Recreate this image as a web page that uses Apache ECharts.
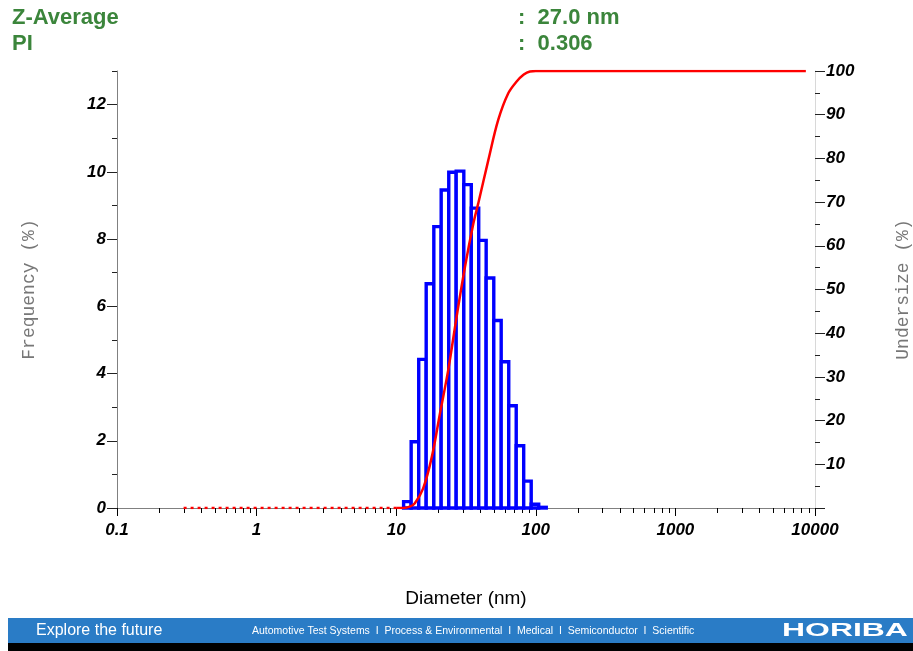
<!DOCTYPE html>
<html>
<head>
<meta charset="utf-8">
<script src="https://cdn.jsdelivr.net/npm/echarts@6/dist/echarts.min.js"></script>
<style>
html,body{margin:0;padding:0;background:#fff;overflow:hidden;}
#chart{width:913px;height:651px;}
</style>
</head>
<body>
<div id="chart"></div>
<script>
// ---- data ----
const binEdges = [11.3, 12.8, 14.5, 16.4, 18.6, 21.0, 23.8, 26.9, 30.5, 34.5, 39.0, 44.1, 50.0, 56.5, 64.0, 72.4, 81.9, 92.7, 104.9, 118.8];
const frequency = [0.19, 1.97, 4.42, 6.67, 8.37, 9.46, 9.99, 10.02, 9.62, 8.92, 7.96, 6.84, 5.58, 4.35, 3.04, 1.85, 0.80, 0.11, 0.02];
const undersizeD = [10, 11.2, 12.5, 13.6, 15.6, 18.0, 20.6, 23.6, 27.1, 31.1, 35.7, 38.7, 45.7, 53.8, 63.5, 72.9, 82, 90.8, 100, 8600];
const undersizePct = [0, 0, 0.3, 1.1, 4.5, 11.7, 21.7, 31.6, 43.8, 55.2, 65.1, 69.7, 79.6, 88.8, 94.9, 97.6, 99.2, 99.9, 100, 100];
const zeroRegionD = [0.3, 10];
const zeroRegionPct = [0, 0];
const xTickLabels = ['0.1', '1', '10', '100', '1000', '10000'];
const minorMultipliers = [2, 3, 4, 5, 6, 7, 8, 9];
const decades = [0.1, 1, 10, 100, 1000];
const headerLabels = ['Z-Average', 'PI'];
const headerValues = [':  27.0 nm', ':  0.306'];

const minorTickValues = [];
decades.forEach(d => minorMultipliers.forEach(m => minorTickValues.push(m * d)));

const histData = frequency.map((v, i) => [binEdges[i], binEdges[i + 1], v]);
const undersizeData = undersizeD.map((d, i) => [d, undersizePct[i]]);
const zeroData = zeroRegionD.map((d, i) => [d, zeroRegionPct[i]]);

const labelFont = {fontFamily: 'Liberation Sans', fontWeight: 'bold', fontStyle: 'italic', fontSize: 17, color: '#000'};
const green = '#3b853b';

const chart = echarts.init(document.getElementById('chart'), null, {renderer: 'canvas'});
const option = {
  animation: false,
  backgroundColor: '#fff',
  grid: {left: 117, right: 98, top: 71, bottom: 143, containLabel: false, outerBoundsMode: 'none'},
  xAxis: [
    {
      type: 'log', logBase: 10, min: 0.1, max: 10000,
      name: 'Diameter (nm)', nameLocation: 'middle', nameGap: 81,
      nameTextStyle: {fontFamily: 'Liberation Sans', fontSize: 19, color: '#000'},
      axisLine: {show: true, lineStyle: {color: '#d8d8d8', width: 1}},
      axisTick: {show: true, length: 8, lineStyle: {color: '#000', width: 1}},
      axisLabel: Object.assign({margin: 14, formatter: function (v) {
        return xTickLabels[Math.round(Math.log10(v)) + 1];
      }}, labelFont),
      splitLine: {show: false}
    },
    {
      type: 'log', logBase: 10, min: 0.1, max: 10000, position: 'top',
      axisLine: {show: true, lineStyle: {color: '#808080', width: 1}},
      axisTick: {show: false}, axisLabel: {show: false}, splitLine: {show: false}
    }
  ],
  yAxis: [
    {
      type: 'value', min: 0, max: 13, interval: 2, position: 'left',
      name: 'Frequency (%)', nameLocation: 'middle', nameRotate: 90, nameGap: 79,
      nameTextStyle: {fontFamily: 'Liberation Mono', fontSize: 18, color: '#777'},
      axisLine: {show: true, lineStyle: {color: '#808080', width: 1}},
      axisTick: {show: true, length: 10, lineStyle: {color: '#222', width: 1}},
      axisLabel: Object.assign({margin: 11, showMaxLabel: false}, labelFont),
      splitLine: {show: false}
    },
    {
      type: 'value', min: 0, max: 13, interval: 1, position: 'left',
      axisLine: {show: false},
      axisTick: {show: true, length: 5, lineStyle: {color: '#222', width: 1}},
      axisLabel: {show: false}, splitLine: {show: false}
    },
    {
      type: 'value', min: 0, max: 100, interval: 10, position: 'right',
      name: 'Undersize (%)', nameLocation: 'middle', nameRotate: 90, nameGap: 79,
      nameTextStyle: {fontFamily: 'Liberation Mono', fontSize: 18, color: '#777'},
      axisLine: {show: true, lineStyle: {color: '#d8d8d8', width: 1}},
      axisTick: {show: true, length: 10, lineStyle: {color: '#222', width: 1}},
      axisLabel: Object.assign({margin: 11, formatter: function (v) { return v === 0 ? '' : String(v); }}, labelFont),
      splitLine: {show: false}
    },
    {
      type: 'value', min: 0, max: 100, interval: 5, position: 'right',
      axisLine: {show: false},
      axisTick: {show: true, length: 5, lineStyle: {color: '#222', width: 1}},
      axisLabel: {show: false}, splitLine: {show: false}
    }
  ],
  series: [
    {
      type: 'custom', name: 'Frequency', xAxisIndex: 0, yAxisIndex: 0,
      data: histData, encode: {x: [0, 1], y: 2}, z: 2,
      renderItem: function (params, api) {
        const p0 = api.coord([api.value(0), api.value(2)]);
        const p1 = api.coord([api.value(1), 0]);
        return {type: 'rect', shape: {x: p0[0], y: p0[1], width: p1[0] - p0[0], height: p1[1] - p0[1]},
          style: {fill: '#fff', stroke: '#0000ff', lineWidth: 3.4}};
      }
    },
    {
      type: 'custom', name: 'minorTicks', xAxisIndex: 0, yAxisIndex: 0,
      data: minorTickValues.map(v => [v, 0]), encode: {x: 0, y: 1}, z: 1, silent: true,
      renderItem: function (params, api) {
        const p = api.coord([api.value(0), 0]);
        return {type: 'line', shape: {x1: Math.round(p[0]) + 0.5, y1: p[1], x2: Math.round(p[0]) + 0.5, y2: p[1] + 5},
          style: {stroke: '#000', lineWidth: 1}};
      }
    },
    {
      type: 'line', name: 'zero', xAxisIndex: 0, yAxisIndex: 2, data: zeroData,
      showSymbol: false, z: 3,
      lineStyle: {color: '#ff0000', width: 2.5, type: [3, 4]}
    },
    {
      type: 'line', name: 'Undersize', xAxisIndex: 0, yAxisIndex: 2, data: undersizeData,
      showSymbol: false, smooth: 0.35, z: 4,
      lineStyle: {color: '#ff0000', width: 2.5}
    }
  ],
  graphic: [
    {type: 'text', left: 12, top: 7, style: {text: headerLabels[0], font: 'bold 22px "Liberation Sans"', fill: green}},
    {type: 'text', left: 12, top: 33, style: {text: headerLabels[1], font: 'bold 22px "Liberation Sans"', fill: green}},
    {type: 'text', left: 518, top: 7, style: {text: headerValues[0], font: 'bold 22px "Liberation Sans"', fill: green}},
    {type: 'text', left: 518, top: 33, style: {text: headerValues[1], font: 'bold 22px "Liberation Sans"', fill: green}},
    {type: 'rect', shape: {x: 8, y: 618, width: 905, height: 25}, style: {fill: '#2a7cc6'}},
    {type: 'rect', shape: {x: 8, y: 643, width: 905, height: 8}, style: {fill: '#000'}},
    {type: 'text', x: 36, y: 631, style: {text: 'Explore the future', font: '16px "Liberation Sans"', fill: '#fff', textVerticalAlign: 'middle'}},
    {type: 'text', x: 252, y: 631, style: {text: 'Automotive Test Systems  I  Process & Environmental  I  Medical  I  Semiconductor  I  Scientific', font: '10.5px "Liberation Sans"', fill: '#fff', textVerticalAlign: 'middle'}},
    {type: 'text', x: 782, y: 631, scaleX: 1.68, style: {text: 'HORIBA', font: 'bold 19px "Liberation Sans"', fill: '#fff', textVerticalAlign: 'middle'}}
  ]
};
chart.setOption(option);
</script>
</body>
</html>
